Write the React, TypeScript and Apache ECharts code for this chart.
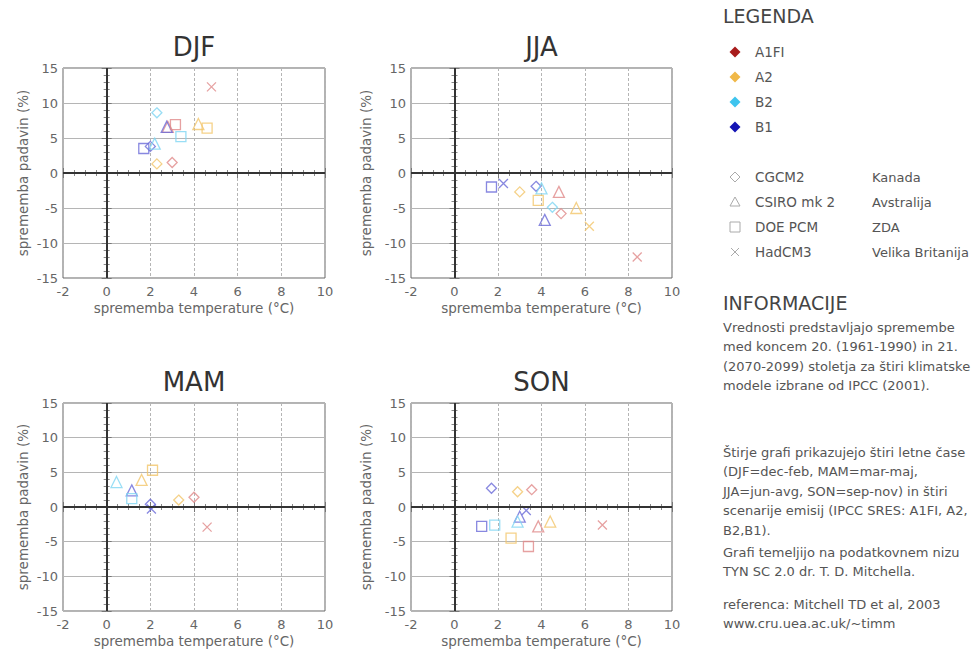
import React, { useEffect, useRef } from 'react';
import * as echarts from 'echarts';

const seasons = ['DJF', 'JJA', 'MAM', 'SON'];
const scenarios = ['A1FI', 'A2', 'B2', 'B1'];
const models = ['CGCM2', 'CSIRO mk 2', 'DOE PCM', 'HadCM3'];
const countries = ['Kanada', 'Avstralija', 'ZDA', 'Velika Britanija'];

// [scenario index, model index, temperature change (°C), precipitation change (%)]
const djfPoints = [
  [0, 0, 3.0, 1.5],
  [0, 1, 2.8, 6.6],
  [0, 2, 3.15, 6.9],
  [0, 3, 4.8, 12.3],
  [1, 0, 2.3, 1.3],
  [1, 1, 4.2, 7.0],
  [1, 2, 4.6, 6.4],
  [2, 0, 2.3, 8.6],
  [2, 1, 2.2, 4.2],
  [2, 2, 3.4, 5.2],
  [3, 0, 2.0, 3.8],
  [3, 1, 2.75, 6.6],
  [3, 2, 1.7, 3.5],
];
const jjaPoints = [
  [3, 2, 1.7, -2.0],
  [3, 3, 2.25, -1.5],
  [1, 0, 3.0, -2.7],
  [3, 0, 3.75, -1.9],
  [2, 1, 4.0, -2.2],
  [0, 1, 4.8, -2.7],
  [1, 2, 3.85, -3.9],
  [2, 0, 4.5, -4.9],
  [0, 0, 4.9, -5.8],
  [3, 1, 4.15, -6.7],
  [1, 1, 5.6, -5.0],
  [1, 3, 6.2, -7.6],
  [0, 3, 8.4, -12.0],
];
const mamPoints = [
  [1, 2, 2.1, 5.3],
  [2, 1, 0.45, 3.6],
  [3, 1, 1.15, 2.4],
  [2, 2, 1.15, 1.2],
  [3, 0, 2.0, 0.4],
  [3, 3, 2.05, -0.3],
  [0, 0, 4.0, 1.4],
  [1, 1, 1.6, 3.9],
  [1, 0, 3.3, 1.0],
  [0, 3, 4.6, -2.9],
];
const sonPoints = [
  [3, 0, 1.7, 2.7],
  [0, 0, 3.55, 2.5],
  [1, 0, 2.9, 2.2],
  [3, 2, 1.25, -2.8],
  [2, 2, 1.85, -2.6],
  [3, 1, 3.0, -1.4],
  [3, 3, 3.3, -0.5],
  [2, 1, 2.9, -2.1],
  [0, 1, 3.85, -2.8],
  [1, 1, 4.4, -2.1],
  [0, 2, 3.4, -5.7],
  [1, 2, 2.6, -4.5],
  [0, 3, 6.8, -2.6],
];
const seasonPoints = [djfPoints, jjaPoints, mamPoints, sonPoints];

const infoLines1 = [
  'Vrednosti predstavljajo spremembe',
  'med koncem 20. (1961-1990) in 21.',
  '(2070-2099) stoletja za štiri klimatske',
  'modele izbrane od IPCC (2001).',
];
const infoLines2 = [
  'Štirje grafi prikazujejo štiri letne čase',
  '(DJF=dec-feb, MAM=mar-maj,',
  'JJA=jun-avg, SON=sep-nov) in štiri',
  'scenarije emisij (IPCC SRES: A1FI, A2,',
  'B2,B1).',
];
const infoLines3 = ['Grafi temeljijo na podatkovnem nizu', 'TYN SC 2.0 dr. T. D. Mitchella.'];
const infoLines4 = ['referenca: Mitchell TD et al, 2003', 'www.cru.uea.ac.uk/~timm'];

const FONT = 'DejaVu Sans';
const markerColors = ['#e08a8a', '#f3c66a', '#7fd6f2', '#6a6ad8'];
const legendColors = ['#a81c1c', '#f0b848', '#3ec4ee', '#1414b4'];
const X_PATH = 'path://M0,0L10,10M10,0L0,10';
const modelSymbols = ['diamond', 'triangle', 'rect', X_PATH];
const modelSizes = [10, 11, 10, 9];

const grids = [
  { left: 63, top: 68, width: 262, height: 210 },
  { left: 411, top: 68, width: 261, height: 210 },
  { left: 63, top: 403, width: 262, height: 208 },
  { left: 411, top: 403, width: 261, height: 208 },
];

export default function App() {
  const ref = useRef<HTMLDivElement>(null);
  useEffect(() => {
    if (!ref.current) return;
    const chart = echarts.init(ref.current, null, { renderer: 'svg' });

    const xAxes: any[] = [];
    const yAxes: any[] = [];
    const series: any[] = [];
    const graphic: any[] = [];

    grids.forEach((g, gi) => {
      const yNameGap = gi % 2 === 0 ? 33 : 38;
      xAxes.push({
        gridIndex: gi, type: 'value', min: -2, max: 10, interval: 2, position: 'bottom',
        name: 'sprememba temperature (°C)', nameLocation: 'middle', nameGap: 23,
        nameTextStyle: { fontFamily: FONT, fontSize: 13.5, color: '#666' },
        axisLine: { show: false },
        axisTick: { show: true, inside: true, length: 5, lineStyle: { color: '#777' } },
        minorTick: { show: true, splitNumber: 4, length: 3, lineStyle: { color: '#888' } },
        axisLabel: { fontFamily: FONT, fontSize: 13, color: '#666', margin: 7 },
        splitLine: { show: true, lineStyle: { color: '#b5b5b5', type: [3, 2], width: 1 } },
      });
      xAxes.push({
        gridIndex: gi, type: 'value', min: -2, max: 10, interval: 2, position: 'top',
        axisLine: { show: false }, axisLabel: { show: false }, splitLine: { show: false },
        axisTick: { show: true, inside: true, length: 5, lineStyle: { color: '#777' } },
        minorTick: { show: true, splitNumber: 4, length: 3, lineStyle: { color: '#888' } },
      });
      yAxes.push({
        gridIndex: gi, type: 'value', min: -15, max: 15, interval: 5, position: 'left',
        name: 'sprememba padavin (%)', nameLocation: 'middle', nameGap: yNameGap,
        nameTextStyle: { fontFamily: FONT, fontSize: 13.5, color: '#666' },
        axisLine: { show: false },
        axisTick: { show: true, inside: true, length: 5, lineStyle: { color: '#777' } },
        minorTick: { show: true, splitNumber: 5, length: 3, lineStyle: { color: '#888' } },
        axisLabel: { fontFamily: FONT, fontSize: 13, color: '#666', margin: 5 },
        splitLine: { show: true, lineStyle: { color: '#b5b5b5', width: 1 } },
      });
      yAxes.push({
        gridIndex: gi, type: 'value', min: -15, max: 15, interval: 5, position: 'right',
        axisLine: { show: false }, axisLabel: { show: false }, splitLine: { show: false },
        axisTick: { show: true, inside: true, length: 5, lineStyle: { color: '#777' } },
        minorTick: { show: true, splitNumber: 5, length: 3, lineStyle: { color: '#888' } },
      });

      // zero lines
      series.push({
        type: 'scatter', xAxisIndex: gi * 2, yAxisIndex: gi * 2, data: [], z: 1, silent: true,
        markLine: {
          silent: true, symbol: 'none', animation: false,
          label: { show: false },
          lineStyle: { color: '#333', width: 2, type: 'solid' },
          data: [{ xAxis: 0 }, { yAxis: 0 }],
        },
      });

      const pts = seasonPoints[gi];
      models.forEach((m, mi) => {
        series.push({
          type: 'scatter', name: seasons[gi] + ' ' + m, xAxisIndex: gi * 2, yAxisIndex: gi * 2, z: 3,
          symbol: modelSymbols[mi], symbolSize: modelSizes[mi],
          data: pts.filter((p) => p[1] === mi).map((p) => ({
            value: [p[2], p[3]],
            itemStyle: { color: 'rgba(0,0,0,0)', borderColor: markerColors[p[0]], borderWidth: 1.3 },
          })),
        });
      });

      graphic.push({
        type: 'text', x: g.left + g.width / 2, y: g.top - 21,
        style: { text: seasons[gi], font: `26px "${FONT}"`, fill: '#333', align: 'center', verticalAlign: 'middle' },
      });
    });

    // Legend
    graphic.push({ type: 'text', x: 723, y: 16, style: { text: 'LEGENDA', font: `19px "${FONT}"`, fill: '#444', verticalAlign: 'middle' } });
    scenarios.forEach((s, i) => {
      const y = 52 + i * 25;
      graphic.push({ type: 'polygon', shape: { points: [[735, y - 5.5], [740.5, y], [735, y + 5.5], [729.5, y]] }, style: { fill: legendColors[i] } });
      graphic.push({ type: 'text', x: 755, y, style: { text: s, font: `13.5px "${FONT}"`, fill: '#555', verticalAlign: 'middle' } });
    });
    models.forEach((m, i) => {
      const y = 177 + i * 25;
      const st = { fill: 'none', stroke: '#aaa', lineWidth: 1 };
      if (i === 0) graphic.push({ type: 'polygon', shape: { points: [[735, y - 5], [740, y], [735, y + 5], [730, y]] }, style: st });
      if (i === 1) graphic.push({ type: 'polygon', shape: { points: [[735, y - 5], [740, y + 4], [730, y + 4]] }, style: st });
      if (i === 2) graphic.push({ type: 'rect', shape: { x: 730, y: y - 5, width: 10, height: 10 }, style: st });
      if (i === 3) {
        graphic.push({ type: 'line', shape: { x1: 731, y1: y - 4, x2: 739, y2: y + 4 }, style: { stroke: '#aaa', lineWidth: 1 } });
        graphic.push({ type: 'line', shape: { x1: 739, y1: y - 4, x2: 731, y2: y + 4 }, style: { stroke: '#aaa', lineWidth: 1 } });
      }
      graphic.push({ type: 'text', x: 755, y, style: { text: m, font: `13.5px "${FONT}"`, fill: '#555', verticalAlign: 'middle' } });
      graphic.push({ type: 'text', x: 872, y, style: { text: countries[i], font: `13px "${FONT}"`, fill: '#555', verticalAlign: 'middle' } });
    });

    // Information block
    graphic.push({ type: 'text', x: 723, y: 303, style: { text: 'INFORMACIJE', font: `19px "${FONT}"`, fill: '#444', verticalAlign: 'middle' } });
    const addLines = (lines: string[], y0: number) => {
      lines.forEach((t, i) => {
        graphic.push({ type: 'text', x: 723, y: y0 + i * 19.5, style: { text: t, font: `13px "${FONT}"`, fill: '#555', verticalAlign: 'middle' } });
      });
    };
    addLines(infoLines1, 327);
    addLines(infoLines2, 452);
    addLines(infoLines3, 552);
    addLines(infoLines4, 604);

    chart.setOption({
      animation: false,
      backgroundColor: '#fff',
      grid: grids.map((g) => ({ ...g, show: true, borderColor: '#666', borderWidth: 1, backgroundColor: 'transparent' })),
      xAxis: xAxes,
      yAxis: yAxes,
      series,
      graphic,
    });
    return () => chart.dispose();
  }, []);
  return <div ref={ref} style={{ position: 'fixed', left: 0, top: 0, width: 979, height: 649 }} />;
}
